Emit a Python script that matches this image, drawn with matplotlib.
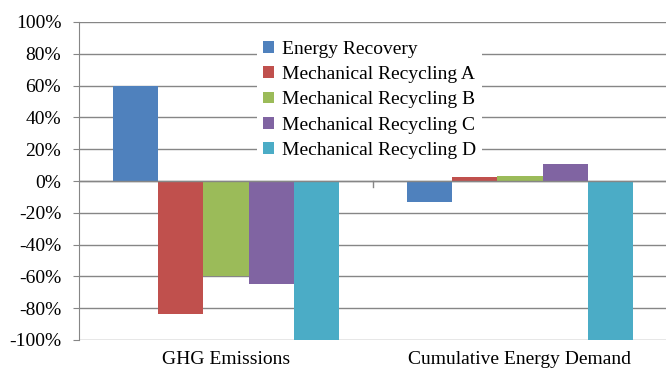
import numpy as np
import matplotlib
matplotlib.use("Agg")
import matplotlib.pyplot as plt
from matplotlib.ticker import FuncFormatter

categories = ["GHG Emissions", "Cumulative Energy Demand"]
series = ["Energy Recovery", "Mechanical Recycling A", "Mechanical Recycling B",
          "Mechanical Recycling C", "Mechanical Recycling D"]
energy_recovery = [60, -13]
mech_a = [-83.5, 2.3]
mech_b = [-60, 3.2]
mech_c = [-65, 10.6]
mech_d = [-100, -100]
colors = ["#4F81BD", "#C0504D", "#9BBB59", "#8064A2", "#4BACC6"]

def main():
    plt.rcParams["font.family"] = ["Liberation Serif", "DejaVu Serif"]
    fig = plt.figure(figsize=(6.66, 3.71), dpi=100)
    ax = fig.add_axes([79/666, 1-340/371, 588/666, 318/371])

    values = [energy_recovery, mech_a, mech_b, mech_c, mech_d]
    x = np.arange(len(categories))
    width = 1.0/(len(series)+1.5)
    for i, (name, vals) in enumerate(zip(series, values)):
        off = (i-(len(series)-1)/2)*width
        ax.bar(x+off, vals, width, color=colors[i], label=name, zorder=2)

    ax.set_xlim(-0.5, len(categories)-0.5)
    ax.set_ylim(-100, 100)
    ax.set_yticks(np.arange(-100, 101, 20))
    ax.yaxis.set_major_formatter(FuncFormatter(lambda v, p: "{:.0f}%".format(v)))
    ax.grid(axis="y", color="#868686", lw=1, zorder=0)
    for s in ["top", "right", "bottom"]:
        ax.spines[s].set_visible(False)
    ax.spines["left"].set_color("#868686")
    ax.tick_params(axis="y", length=4.3, color="#868686", labelsize=14, pad=8.5)

    # category axis at zero with boundary ticks
    ax.axhline(0, color="#868686", lw=1, zorder=3)
    for b in [0.5]:
        ax.plot([b, b], [0, -4], color="#868686", lw=1, zorder=3, clip_on=False)
    ax.set_xticks(x)
    ax.set_xticklabels(categories)
    ax.tick_params(axis="x", length=0, labelsize=14, pad=8)

    leg = ax.legend(loc="upper left", bbox_to_anchor=(0.287, 0.99), frameon=True,
                    fontsize=14, handlelength=0.55, handleheight=0.55,
                    handletextpad=0.4, labelspacing=0.43, borderpad=0.3)
    leg.get_frame().set_edgecolor("none")
    leg.get_frame().set_facecolor("white")
    leg.get_frame().set_alpha(1)

    fig.savefig("out.png", dpi=100)
    plt.close()

if __name__ == "__main__":
    main()
